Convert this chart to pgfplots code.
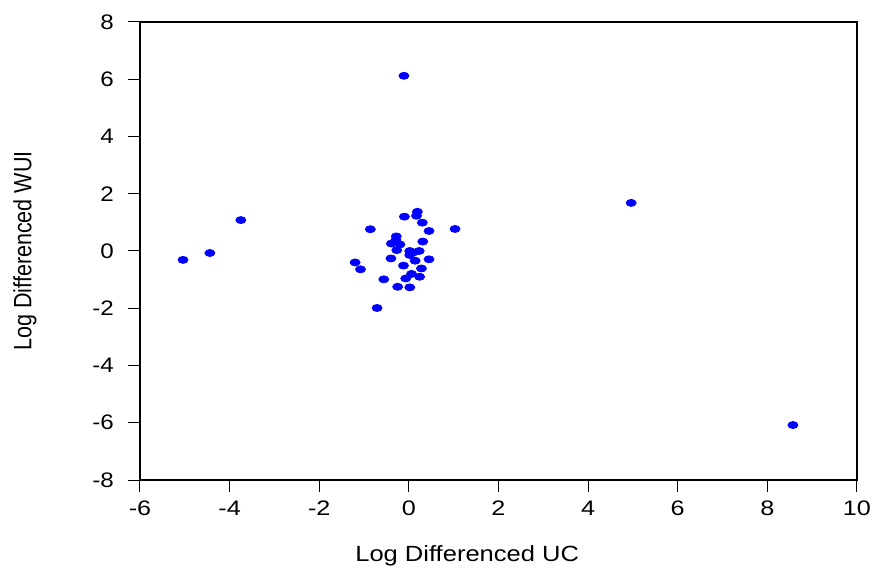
\documentclass[border=0pt]{standalone}
\usepackage{pgfplots}
\pgfplotsset{compat=1.18}
\usepackage{fontspec}
\setmainfont{Liberation Sans}
\begin{document}
\begin{tikzpicture}
\path[use as bounding box] (-70pt,-44.5pt) rectangle (367pt,240pt);
\begin{axis}[
  at={(0,0)}, anchor=south west,
  scale only axis,
  width=358.5pt, height=229pt,
  xmin=-6, xmax=10, ymin=-8, ymax=8,
  xtick={-6,-4,...,10}, ytick={-8,-6,...,8},
  tick align=outside,
  xtick pos=bottom, ytick pos=left,
  major tick length=6pt,
  axis line style={line width=0.6pt},
  tick style={line width=0.5pt, black},
  /pgf/number format/assume math mode=true,
  ticklabel style={font=\fontsize{10.5}{12}\selectfont},
  xticklabel style={yshift=-1pt, xscale=1.2},
  yticklabel style={xshift=-3pt, xscale=1.15},
  xlabel={Log Differenced UC},
  ylabel={Log Differenced WUI},
  xlabel style={font=\fontsize{11}{13}\selectfont, xscale=1.16, at={(axis description cs:0.5,0)}, anchor=center, xshift=-13.5pt, yshift=-38pt},
  ylabel style={font=\fontsize{12.5}{14}\selectfont, xscale=0.86, at={(axis description cs:0,0.5)}, anchor=center, yshift=57.5pt},
  clip=false,
]
\addplot[only marks, mark=*, mark size=1.75pt, mark options={xscale=1.43, fill=blue, draw=blue}] coordinates {
(-0.11,6.12) (4.96,1.68) (8.57,-6.08) (-3.75,1.08) (-5.04,-0.31) (-4.44,-0.07)
(-0.71,-1.99) (1.03,0.77)
(0.19,1.37) (0.17,1.23) (-0.10,1.20) (0.30,0.99) (0.45,0.70)
(-0.86,0.76) (-0.28,0.51) (-0.39,0.26) (-0.20,0.23) (-0.29,0.38)
(0.31,0.33) (-0.27,0.03) (0.02,0.00) (0.23,0.00) (0.02,-0.14) (0.10,-0.05)
(-0.40,-0.26) (0.14,-0.34) (0.45,-0.29) (-1.20,-0.40) (-1.08,-0.64)
(-0.12,-0.51) (0.28,-0.61) (0.06,-0.80) (-0.07,-0.96) (0.24,-0.90)
(-0.56,-0.99) (-0.25,-1.25) (0.02,-1.27)
};
\end{axis}
\end{tikzpicture}
\end{document}
